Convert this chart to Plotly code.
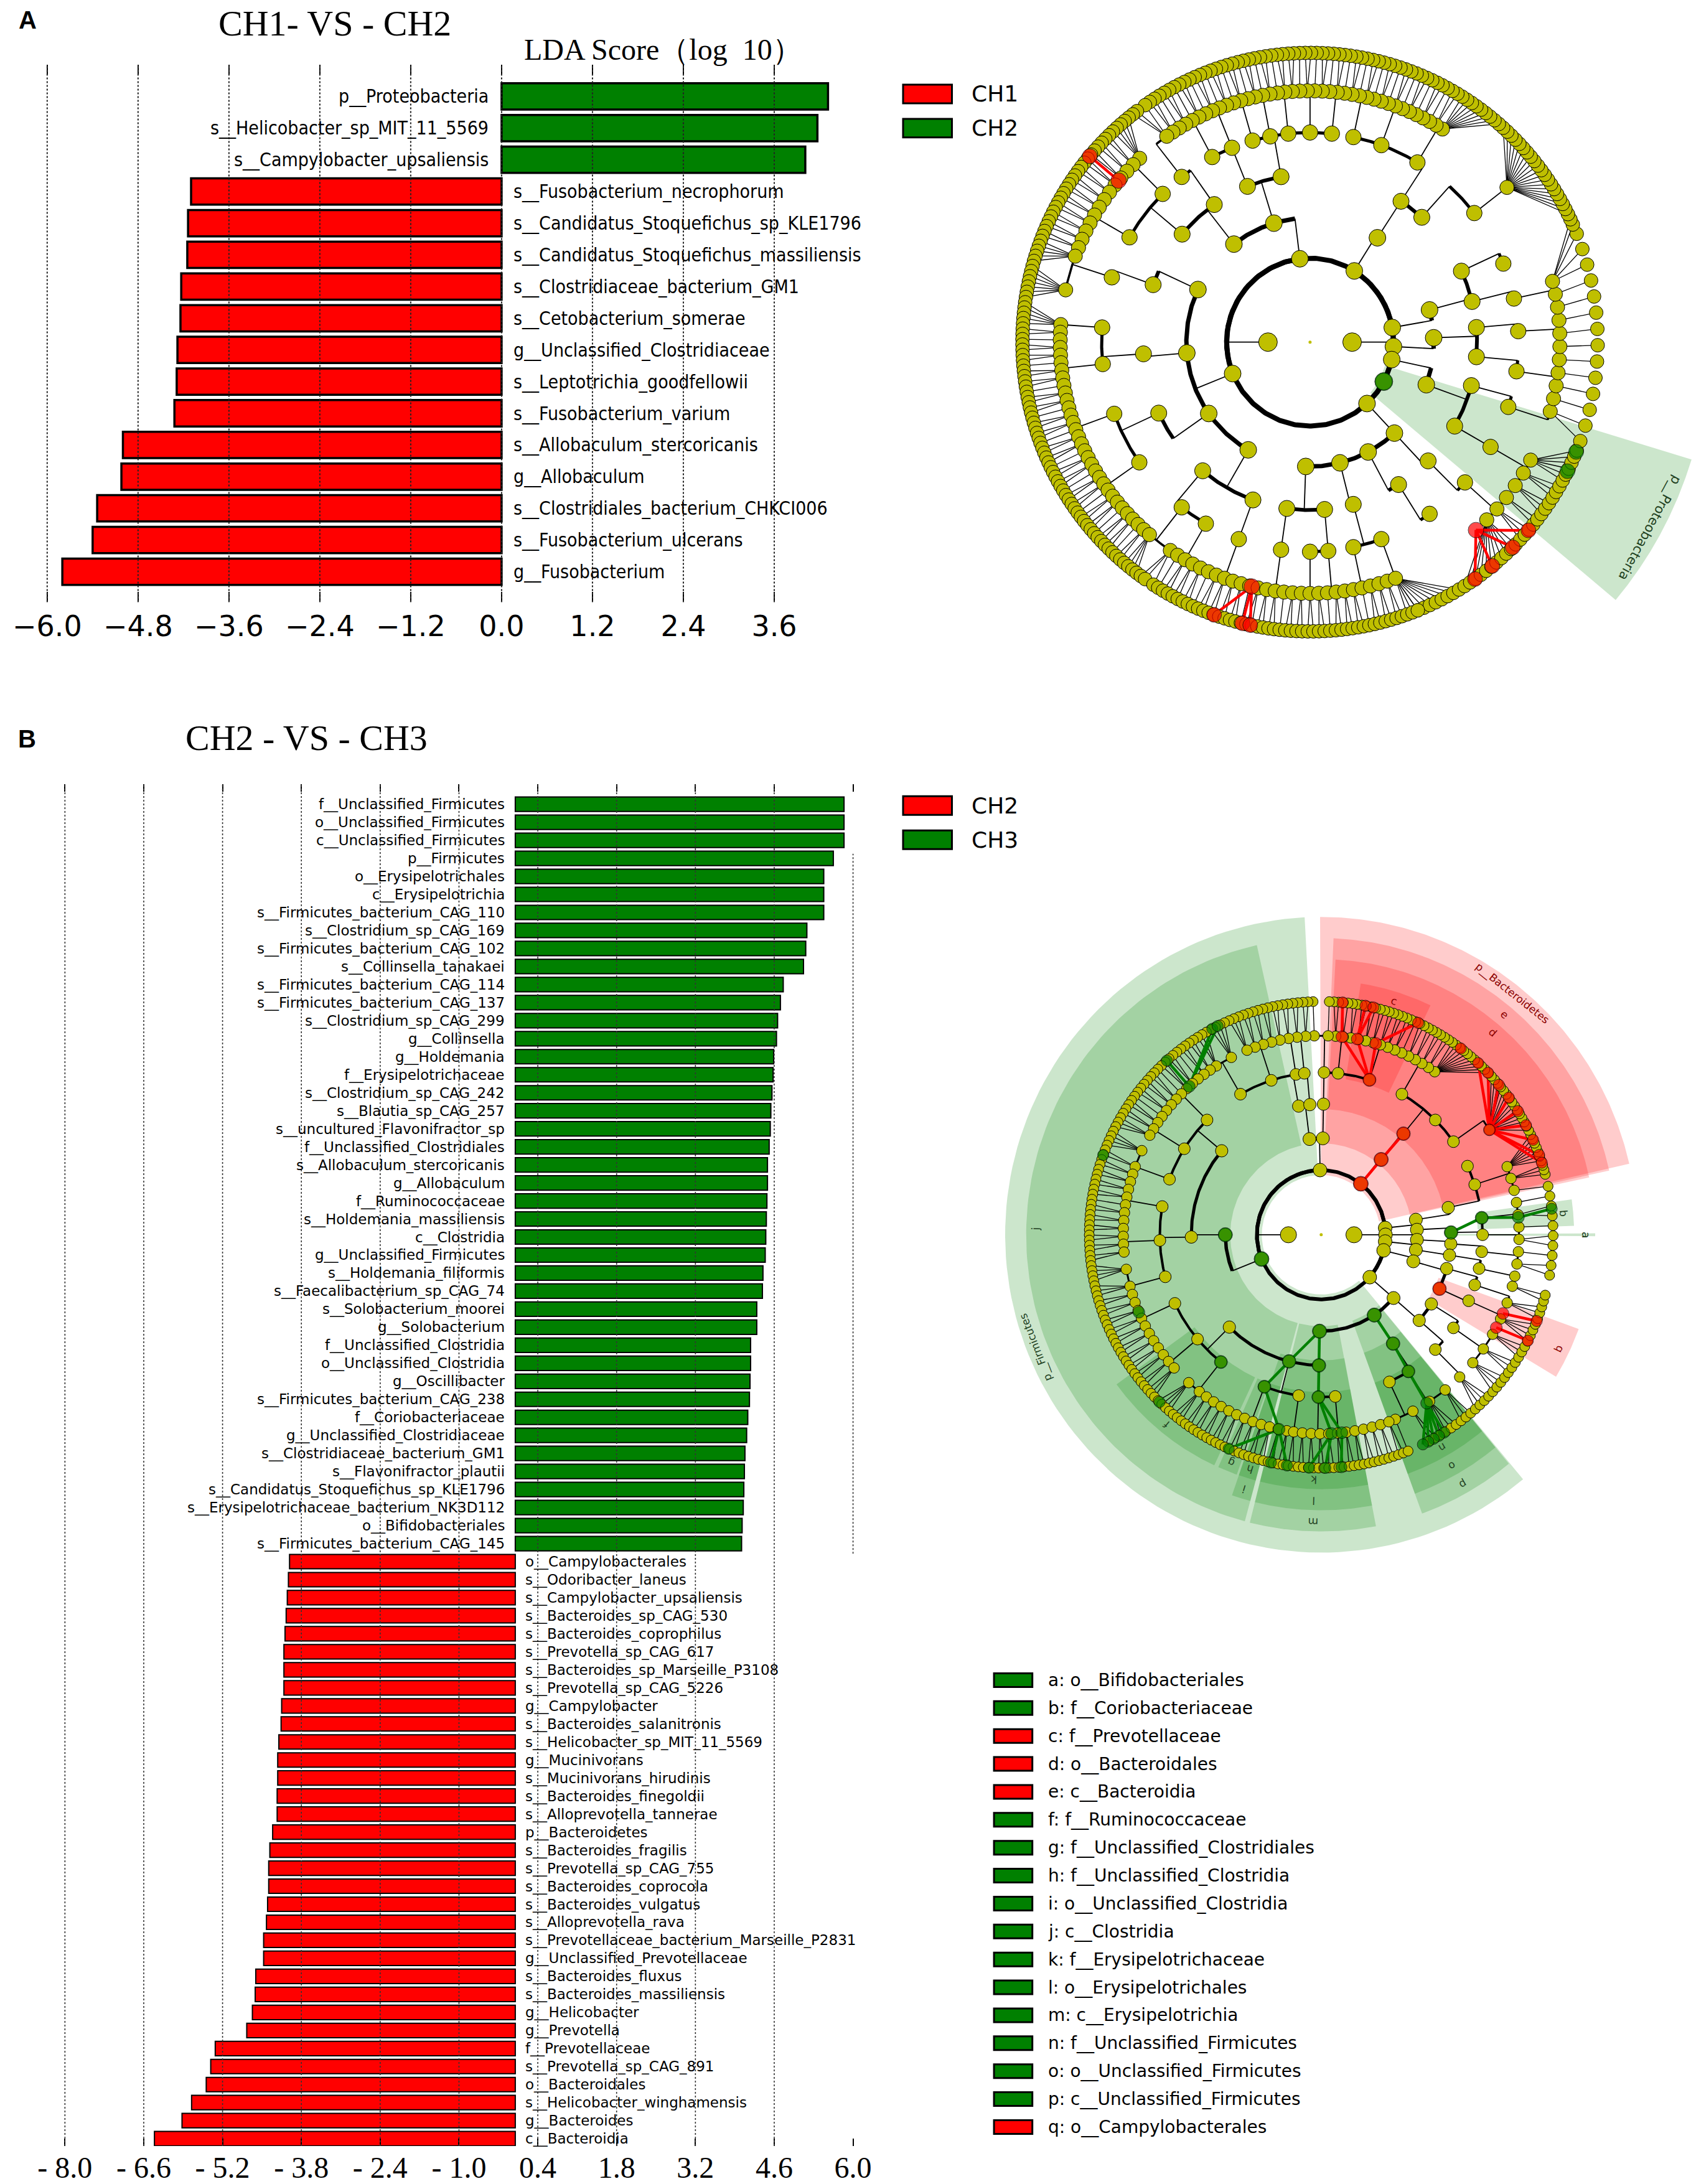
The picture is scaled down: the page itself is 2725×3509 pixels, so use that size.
import numpy as np
import plotly.graph_objects as go

W, H = 2725, 3509
RED, GREEN, YEL = "#ff0000", "#008000", "#bfbf00"

# ---------------- panel A bars: CH1 vs CH2 ----------------
a_labels = ["p__Proteobacteria", "s__Helicobacter_sp_MIT_11_5569", "s__Campylobacter_upsaliensis",
            "s__Fusobacterium_necrophorum", "s__Candidatus_Stoquefichus_sp_KLE1796",
            "s__Candidatus_Stoquefichus_massiliensis", "s__Clostridiaceae_bacterium_GM1",
            "s__Cetobacterium_somerae", "g__Unclassified_Clostridiaceae", "s__Leptotrichia_goodfellowii",
            "s__Fusobacterium_varium", "s__Allobaculum_stercoricanis", "g__Allobaculum",
            "s__Clostridiales_bacterium_CHKCI006", "s__Fusobacterium_ulcerans", "g__Fusobacterium"]
a_lda = [4.31, 4.17, 4.01, -4.10, -4.14, -4.15, -4.23, -4.24, -4.28, -4.29, -4.32,
         -5.00, -5.02, -5.34, -5.40, -5.80]
a_ticks = [-6.0, -4.8, -3.6, -2.4, -1.2, 0.0, 1.2, 2.4, 3.6]
a_ticktext = ["\u22126.0", "\u22124.8", "\u22123.6", "\u22122.4", "\u22121.2", "0.0", "1.2", "2.4", "3.6"]

# ---------------- panel B bars: CH2 vs CH3 ----------------
b_labels = ["f__Unclassified_Firmicutes", "o__Unclassified_Firmicutes", "c__Unclassified_Firmicutes",
            "p__Firmicutes", "o__Erysipelotrichales", "c__Erysipelotrichia",
            "s__Firmicutes_bacterium_CAG_110", "s__Clostridium_sp_CAG_169", "s__Firmicutes_bacterium_CAG_102",
            "s__Collinsella_tanakaei", "s__Firmicutes_bacterium_CAG_114", "s__Firmicutes_bacterium_CAG_137",
            "s__Clostridium_sp_CAG_299", "g__Collinsella", "g__Holdemania", "f__Erysipelotrichaceae",
            "s__Clostridium_sp_CAG_242", "s__Blautia_sp_CAG_257", "s__uncultured_Flavonifractor_sp",
            "f__Unclassified_Clostridiales", "s__Allobaculum_stercoricanis", "g__Allobaculum",
            "f__Ruminococcaceae", "s__Holdemania_massiliensis", "c__Clostridia", "g__Unclassified_Firmicutes",
            "s__Holdemania_filiformis", "s__Faecalibacterium_sp_CAG_74", "s__Solobacterium_moorei",
            "g__Solobacterium", "f__Unclassified_Clostridia", "o__Unclassified_Clostridia", "g__Oscillibacter",
            "s__Firmicutes_bacterium_CAG_238", "f__Coriobacteriaceae", "g__Unclassified_Clostridiaceae",
            "s__Clostridiaceae_bacterium_GM1", "s__Flavonifractor_plautii",
            "s__Candidatus_Stoquefichus_sp_KLE1796", "s__Erysipelotrichaceae_bacterium_NK3D112",
            "o__Bifidobacteriales", "s__Firmicutes_bacterium_CAG_145",
            "o__Campylobacterales", "s__Odoribacter_laneus", "s__Campylobacter_upsaliensis",
            "s__Bacteroides_sp_CAG_530", "s__Bacteroides_coprophilus", "s__Prevotella_sp_CAG_617",
            "s__Bacteroides_sp_Marseille_P3108", "s__Prevotella_sp_CAG_5226", "g__Campylobacter",
            "s__Bacteroides_salanitronis", "s__Helicobacter_sp_MIT_11_5569", "g__Mucinivorans",
            "s__Mucinivorans_hirudinis", "s__Bacteroides_finegoldii", "s__Alloprevotella_tannerae",
            "p__Bacteroidetes", "s__Bacteroides_fragilis", "s__Prevotella_sp_CAG_755",
            "s__Bacteroides_coprocola", "s__Bacteroides_vulgatus", "s__Alloprevotella_rava",
            "s__Prevotellaceae_bacterium_Marseille_P2831", "g__Unclassified_Prevotellaceae",
            "s__Bacteroides_fluxus", "s__Bacteroides_massiliensis", "g__Helicobacter", "g__Prevotella",
            "f__Prevotellaceae", "s__Prevotella_sp_CAG_891", "o__Bacteroidales",
            "s__Helicobacter_winghamensis", "g__Bacteroides", "c__Bacteroidia"]
b_lda = [5.84, 5.84, 5.84, 5.65, 5.48, 5.48, 5.48, 5.18, 5.16, 5.12, 4.76, 4.71, 4.66, 4.64,
         4.59, 4.58, 4.56, 4.54, 4.53, 4.51, 4.48, 4.48, 4.47, 4.46, 4.45, 4.44, 4.40, 4.39,
         4.29, 4.29, 4.18, 4.18, 4.17, 4.16, 4.13, 4.11, 4.08, 4.07, 4.06, 4.05, 4.03, 4.02,
         -4.01, -4.03, -4.05, -4.07, -4.09, -4.11, -4.11, -4.11, -4.15, -4.16, -4.20, -4.22,
         -4.22, -4.23, -4.23, -4.31, -4.36, -4.38, -4.38, -4.40, -4.42, -4.47, -4.47, -4.61,
         -4.62, -4.67, -4.77, -5.33, -5.41, -5.49, -5.75, -5.92, -6.41]
b_ticks = [-8.0, -6.6, -5.2, -3.8, -2.4, -1.0, 0.4, 1.8, 3.2, 4.6, 6.0]
b_ticktext = ["- 8.0", "- 6.6", "- 5.2", "- 3.8", "- 2.4", "- 1.0", "0.4", "1.8", "3.2", "4.6", "6.0"]

key_labels = ["a: o__Bifidobacteriales", "b: f__Coriobacteriaceae", "c: f__Prevotellaceae",
              "d: o__Bacteroidales", "e: c__Bacteroidia", "f: f__Ruminococcaceae",
              "g: f__Unclassified_Clostridiales", "h: f__Unclassified_Clostridia",
              "i: o__Unclassified_Clostridia", "j: c__Clostridia", "k: f__Erysipelotrichaceae",
              "l: o__Erysipelotrichales", "m: c__Erysipelotrichia", "n: f__Unclassified_Firmicutes",
              "o: o__Unclassified_Firmicutes", "p: c__Unclassified_Firmicutes", "q: o__Campylobacterales"]
key_colors = ["g", "g", "r", "r", "r", "g", "g", "g", "g", "g", "g", "g", "g", "g", "g", "g", "r"]

# ---------------- cladogram A (angles in degrees, counter-clockwise from east) ----------------
ca_radii = [68, 135, 200, 270, 337, 404, 465]
ca_ring0 = [180, 0]
ca_ring1 = [202, 97, 58, 10, -3, -12, -28, -47]
ca_ring2 = [107, 128, 155, 185, 215, 240, 268, 57, 15, 2, -20, -47, -62, -76]
ca_ring3 = [100, 112, 125, 140, 160, 184, 205, 230, 250, 262, 275, 285, 57, 48, 25, 14, 5, -5,
            -15, -30, -45, -58]
ca_ring4 = [38, 59, 70, 78, 84, 90, 96, 101, 106, 112, 118, 128, 135, 150, 162, 176, 186, 200,
            215, 232, 240, 250, 262, 270, 275, 282, 290, -55, -42, -30, -18, -8, 3, 12, 22]
ca_ring5 = [(-45, -28, 6), (-16, 14, 11), (38, 38, 1), (58, 125, 40), (133, 160, 14), (168, 168, 1),
            (176, 230, 32), (236, 290, 28)]
ca_ring6 = [(-68, -22, 36), (-20, 22, 14), (24, 125, 90), (127, 235, 104), (237, 292, 50)]
ca_hilite = [(5, 140, "r"), (6, 140, "r"), (5, 256.5, "r"), (6, 250.5, "r"), (6, 256.4, "r"),
             (6, 258, "r"), (5, -48.4, "r"), (6, -40.6, "r"), (6, -45.2, "r"), (6, -50.7, "r"),
             (6, -55, "r"), (1, -28, "g"), (6, -22.3, "g"), (6, -26.5, "g")]
ca_wedges = [("p__Proteobacteria", 1, -40, -17, "g")]

# ---------------- cladogram B ----------------
cb_radii = [53, 104, 155, 210, 261, 320, 375]
cb_ring0 = [180, 0]
cb_ring1 = [91, 52, 202, 6, 0, -6, -14, -41]
cb_ring2 = [97, 89, 51.3, 180, 269, 9, 3, -3, -9, -16, -41, -56.4]
cb_ring3 = [100, 95, 89, 50.7, 140, 181, 225, 255.7, 269, 12, 1, -4, -9, -15, -24.4, -32, -41, -56.4]
cb_ring4 = [108, 120, 135, 148, 160, 170, 182, 195, 205, 220, 231.6, 249.4, 262, 269, 275, 99, 96,
            89, 84, 72.6, 60, 45, 35, 25, 18, 6, 0, -6, -12, -18, -24, -35, -45, -57.3, -65]
cb_ring5 = [(-68, -40, 6), (-35, -15, 5), (-12, 20, 10), (31.8, 31.8, 1), (55, 88, 16), (92, 112, 9),
            (117, 117, 1), (122, 150, 14), (155, 155, 1), (160, 185, 12), (190, 190, 1), (195, 222, 12),
            (228, 228, 1), (232, 260, 12), (262, 290, 12)]
cb_ring6 = [(-62, -15, 32), (-10, 12, 10), (15, 88, 64), (92, 292, 160)]
cb_hilite = [(1, 202, "g"), (2, 180, "g"), (2, 269, "g"), (2, -56.4, "g"), (3, 255.7, "g"),
             (3, 269, "g"), (3, -56.4, "g"), (3, 1, "g"), (4, 249.4, "g"), (4, 231.6, "g"),
             (4, 269, "g"), (4, -57.3, "g"), (4, 6, "g"), (5, 202.9, "g"), (5, 131.8, "g"),
             (5, 257.7, "g"), (5, 273, "g"), (5, 276, "g"), (5, -57.8, "g"), (5, 5, "g"),
             (6, -58, "g"), (6, -59.5, "g"), (6, -61, "g"), (6, -62.5, "g"), (6, -64, "g"),
             (6, 225.8, "g"), (6, 246.5, "g"), (6, 257.5, "g"), (6, 261.5, "g"), (6, 267, "g"),
             (6, 271, "g"), (6, 275, "g"), (6, 160, "g"), (6, 131.7, "g"), (6, 118, "g"),
             (6, 116.5, "g"), (6, 6.4, "g"),
             (1, 52, "r"), (2, 51.3, "r"), (3, 50.7, "r"), (4, 72.6, "r"), (5, 31.8, "r"),
             (5, 84, "r"), (5, 79.5, "r"), (5, 74, "r"), (6, 84.7, "r"), (6, 79, "r"), (6, 77, "r"),
             (6, 65.3, "r"), (6, 53, "r"), (6, 47.4, "r"), (6, 44, "r"), (6, 40, "r"), (6, 36, "r"),
             (6, 32, "r"), (6, 28, "r"), (6, 24, "r"), (6, 20, "r"), (6, 18, "r"),
             (3, -24.4, "r"), (5, -23.3, "r"), (5, -27.8, "r"), (6, -21.7, "r"), (6, -27, "r")]
cb_wedges = [("p__Firmicutes", 1, 93, 309.7, "g"), ("p__Bacteroidetes", 1, 12.9, 90.2, "r"),
             ("e", 2, 12.5, 87.6, "r"), ("d", 3, 12, 87, "r"), ("c", 4, 64.4, 81, "r"),
             ("j", 2, 102.6, 255, "g"), ("f", 4, 216, 245, "g"), ("g", 4, 246, 250.5, "g"),
             ("i", 3, 251, 255, "g"), ("h", 4, 251, 255, "g"),
             ("m", 2, 256, 280.7, "g"), ("l", 3, 256, 280.7, "g"), ("k", 4, 256, 280.7, "g"),
             ("p", 2, 290, 309.5, "g"), ("o", 3, 290, 309.5, "g"), ("n", 4, 290, 309.5, "g"),
             ("q", 3, 329, 340, "r"), ("b", 4, 2, 8, "g"), ("a", 3, -0.3, 0.3, "g")]

COL = {"r": RED, "g": GREEN}
FILL = {"r": "rgba(255,0,0,0.2)", "g": "rgba(0,128,0,0.2)"}
TXT = {"r": "#8b0000", "g": "#1e401e"}


def px(x):
    return x / W


def py(y):
    return 1 - y / H


def polar(r, deg):
    t = np.deg2rad(np.asarray(deg, dtype=float))
    return r * np.cos(t), r * np.sin(t)


def angdiff(a, b):
    return (np.asarray(a) - np.asarray(b) + 180) % 360 - 180


def spread(segs):
    out = []
    for a0, a1, n in segs:
        out += list(np.linspace(a0, a1, n))
    return out


fig = go.Figure()


def bar_panel(labels, lda, xa, ya, lw, width, font, lshift, rshift):
    colors = [GREEN if v > 0 else RED for v in lda]
    fig.add_trace(go.Bar(x=lda, y=list(range(len(lda))), orientation="h", width=width,
                         marker=dict(color=colors, line=dict(color="black", width=lw)),
                         xaxis=xa, yaxis=ya, showlegend=False, hoverinfo="skip"))
    for i, (name, v) in enumerate(zip(labels, lda)):
        fig.add_annotation(x=0, y=i, xref=xa, yref=ya, text=name, showarrow=False,
                           xanchor="right" if v > 0 else "left", yanchor="middle",
                           xshift=-lshift if v > 0 else rshift, font=font)


bar_panel(a_labels, a_lda, "x", "y", 3.5, 0.83,
          dict(family="DejaVu Sans Condensed, Liberation Sans Narrow, DejaVu Sans", size=30, color="black"),
          19, 17)
bar_panel(b_labels, b_lda, "x2", "y2", 2, 0.8,
          dict(family="DejaVu Sans", size=23, color="black"), 15, 14)

# dotted grid lines drawn above bars
for t in a_ticks:
    fig.add_shape(type="line", xref="x", yref="y domain", x0=t, x1=t, y0=0, y1=1, layer="above",
                  line=dict(color="#222", width=2, dash="dot"))
for t in b_ticks:
    y0, y1 = (0.435, 0.949) if t == b_ticks[-1] else (0, 1)
    fig.add_shape(type="line", xref="x2", yref="y2 domain", x0=t, x1=t, y0=y0, y1=y1, layer="above",
                  line=dict(color="#333", width=1.6, dash="dot"))


def draw_clade(xa, ya, radii, rings, sizes, arc_w, hilite, wedges, off, lab_size):
    r_out = radii[-1]
    # shaded clades
    for name, lev, a0, a1, c in wedges:
        r0 = radii[lev] - 8
        r1 = r_out + (5 - lev) * off
        t = np.linspace(a0, a1, 120)
        xo, yo = polar(r1, t)
        xi, yi = polar(r0, t[::-1])
        fig.add_trace(go.Scatter(x=np.concatenate([xo, xi, xo[:1]]), y=np.concatenate([yo, yi, yo[:1]]),
                                 mode="lines", fill="toself", fillcolor=FILL[c], line=dict(width=0),
                                 xaxis=xa, yaxis=ya, hoverinfo="skip", showlegend=False))
        mid = (a0 + a1) / 2
        lx, ly = polar(r1 - off * 0.45, mid)
        ang = ((90 - mid + 180) % 360) - 180
        fig.add_annotation(x=float(lx), y=float(ly), xref=xa, yref=ya, text=name, showarrow=False,
                           textangle=ang, font=dict(family="DejaVu Sans", size=lab_size, color=TXT[c]))

    # branches: spokes + arcs for inner levels, fans for the leaves
    fan_x, fan_y = [], []
    sp_x, sp_y = [], []
    arcs = {}
    for L in range(1, len(rings)):
        par = np.array(rings[L - 1], dtype=float)
        ch = np.array(rings[L], dtype=float)
        idx = np.abs(angdiff(ch[:, None], par[None, :])).argmin(axis=1)
        ax_, ay_ = [], []
        if L == 1:
            t = np.linspace(0, 360, 400)
            xx, yy = polar(radii[1], t)
            ax_ += list(xx) + [None]
            ay_ += list(yy) + [None]
        for j, pa in enumerate(par):
            kids = ch[idx == j]
            if len(kids) == 0:
                continue
            if L < len(rings) - 1:
                x0, y0 = polar(radii[L - 1], pa)
                x1, y1 = polar(radii[L], pa)
                sp_x += [x0, x1, None]
                sp_y += [y0, y1, None]
                dd = angdiff(kids, pa)
                lo, hi = min(dd.min(), 0), max(dd.max(), 0)
                t = pa + np.linspace(lo, hi, int(hi - lo) * 2 + 2)
                xx, yy = polar(radii[L], t)
                ax_ += list(xx) + [None]
                ay_ += list(yy) + [None]
            else:
                x0, y0 = polar(radii[L - 1], pa)
                for k in kids:
                    x1, y1 = polar(radii[L], k)
                    fan_x += [x0, x1, None]
                    fan_y += [y0, y1, None]
        arcs[L] = (ax_, ay_)
    fig.add_trace(go.Scatter(x=fan_x, y=fan_y, mode="lines", line=dict(color="black", width=1.3),
                             xaxis=xa, yaxis=ya, hoverinfo="skip", showlegend=False))
    fig.add_trace(go.Scatter(x=sp_x, y=sp_y, mode="lines", line=dict(color="black", width=1.8),
                             xaxis=xa, yaxis=ya, hoverinfo="skip", showlegend=False))
    for L, (xx, yy) in arcs.items():
        fig.add_trace(go.Scatter(x=xx, y=yy, mode="lines", line=dict(color="black", width=arc_w[L - 1]),
                                 xaxis=xa, yaxis=ya, hoverinfo="skip", showlegend=False))

    # highlighted branches
    for c in ("r", "g"):
        lx, ly = [], []
        for (L, a, cc) in hilite:
            if cc != c or L == 0:
                continue
            cands = [(abs(float(angdiff(a, a2))), a2) for (L2, a2, c2) in hilite if L2 == L - 1 and c2 == c]
            if cands:
                d, a2 = min(cands)
                if d < 18:
                    x0, y0 = polar(radii[L - 1], a2)
                    x1, y1 = polar(radii[L], a)
                    lx += [x0, x1, None]
                    ly += [y0, y1, None]
        fig.add_trace(go.Scatter(x=lx, y=ly, mode="lines", line=dict(color=COL[c], width=4.5),
                                 xaxis=xa, yaxis=ya, hoverinfo="skip", showlegend=False))

    # nodes
    for L, ring in enumerate(rings):
        xx, yy = polar(radii[L], ring)
        fig.add_trace(go.Scatter(x=xx, y=yy, mode="markers",
                                 marker=dict(size=sizes[L], color=YEL, line=dict(color="black", width=1)),
                                 xaxis=xa, yaxis=ya, hoverinfo="skip", showlegend=False))
    hx, hy, hc, hs = [], [], [], []
    for (L, a, c) in hilite:
        x0, y0 = polar(radii[L], a)
        hx.append(x0)
        hy.append(y0)
        hc.append(COL[c])
        hs.append(sizes[L] + 2)
    fig.add_trace(go.Scatter(x=hx, y=hy, mode="markers",
                             marker=dict(size=hs, color=hc, line=dict(color="black", width=1)),
                             xaxis=xa, yaxis=ya, hoverinfo="skip", showlegend=False))
    fig.add_trace(go.Scatter(x=[0], y=[0], mode="markers", marker=dict(size=5, color=YEL),
                             xaxis=xa, yaxis=ya, hoverinfo="skip", showlegend=False))


draw_clade("x3", "y3", ca_radii,
           [ca_ring0, ca_ring1, ca_ring2, ca_ring3, ca_ring4, spread(ca_ring5), spread(ca_ring6)],
           [30, 27, 27, 26, 25, 23, 22], [8, 7, 6, 5, 3.5, 2], ca_hilite, ca_wedges, 45, 21)
draw_clade("x4", "y4", cb_radii,
           [cb_ring0, cb_ring1, cb_ring2, cb_ring3, cb_ring4, spread(cb_ring5), spread(cb_ring6)],
           [26, 22, 21, 20, 19, 17, 16], [6, 5.5, 5, 4, 3, 2], cb_hilite, cb_wedges, 34, 17)

# ---------------- text, legends ----------------
serif = "Liberation Serif, Times New Roman, serif"
texts = [("A", 28, 32, dict(family="Liberation Sans", size=40, color="black"), True),
         ("CH1- VS - CH2", 524, 38, dict(family=serif, size=58, color="black"), False),
         ("LDA Score\uff08log\u00a0 10\uff09", 1055, 80, dict(family=serif, size=48, color="black"), False),
         ("B", 27, 1188, dict(family="Liberation Sans", size=40, color="black"), True),
         ("CH2 - VS - CH3", 478, 1186, dict(family=serif, size=58, color="black"), False)]
for t, x, y, f, bold in texts:
    fig.add_annotation(x=px(x), y=py(y), xref="paper", yref="paper", showarrow=False,
                       xanchor="center", yanchor="middle",
                       text="<b>%s</b>" % t if bold else t, font=f)

for top, names in ((136, ["CH1", "CH2"]), (1280, ["CH2", "CH3"])):
    for k, (name, c) in enumerate(zip(names, [RED, GREEN])):
        y0 = top + k * 55
        fig.add_shape(type="rect", xref="paper", yref="paper", x0=px(1443), x1=px(1522),
                      y0=py(y0), y1=py(y0 + 30), fillcolor=c, line=dict(color="black", width=3))
        fig.add_annotation(x=px(1552), y=py(y0 + 15), xref="paper", yref="paper", text=name,
                           showarrow=False, xanchor="left", yanchor="middle",
                           font=dict(family="DejaVu Sans", size=36, color="black"))

for k, (name, c) in enumerate(zip(key_labels, key_colors)):
    yc = 2701 + k * 44.9
    fig.add_shape(type="rect", xref="paper", yref="paper", x0=px(1590), x1=px(1652),
                  y0=py(yc - 11), y1=py(yc + 11), fillcolor=COL[c], line=dict(color="black", width=3))
    fig.add_annotation(x=px(1675), y=py(yc), xref="paper", yref="paper", text=name, showarrow=False,
                       xanchor="left", yanchor="middle",
                       font=dict(family="DejaVu Sans", size=28, color="black"))

tick_common = dict(showgrid=False, zeroline=False, ticks="inside", tickwidth=2, tickcolor="black",
                   mirror="ticks", showline=False)
hidden = dict(visible=False, showgrid=False, zeroline=False)
fig.update_layout(
    width=W, height=H, margin=dict(l=0, r=0, t=0, b=0), autosize=False,
    paper_bgcolor="white", plot_bgcolor="rgba(0,0,0,0)", showlegend=False,
    xaxis=dict(domain=[px(20), px(1400)], range=[-6.32, 4.95], tickvals=a_ticks, ticktext=a_ticktext,
               ticklen=16, anchor="y", ticklabelstandoff=8,
               tickfont=dict(family="DejaVu Sans", size=46, color="black"), **tick_common),
    yaxis=dict(domain=[py(968), py(104)], range=[15.96, -1.0], anchor="x", showticklabels=False,
               ticks="", showgrid=False, zeroline=False),
    xaxis2=dict(domain=[px(30), px(1440)], range=[-8.636, 6.856], tickvals=b_ticks, ticktext=b_ticktext,
                ticklen=12, anchor="y2", ticklabelstandoff=2,
                tickfont=dict(family=serif, size=48, color="black"), **tick_common),
    yaxis2=dict(domain=[py(3450), py(1261)], range=[74.41, -1.10], anchor="x2", showticklabels=False,
                ticks="", showgrid=False, zeroline=False),
    xaxis3=dict(domain=[px(1600), 1], range=[1600 - 2101, W - 2101], anchor="y3", **hidden),
    yaxis3=dict(domain=[py(1060), py(40)], range=[550 - 1060, 550 - 40], anchor="x3", **hidden),
    xaxis4=dict(domain=[px(1580), 1], range=[1580 - 2119, W - 2119], anchor="y4", **hidden),
    yaxis4=dict(domain=[py(2560), py(1380)], range=[1985 - 2560, 1985 - 1380], anchor="x4", **hidden),
)

# drop the default page margin so figure pixels line up with the window
fig.write_html("out.html", config={"displayModeBar": False},
               post_script="document.body.style.margin='0';document.body.style.overflow='hidden';")
